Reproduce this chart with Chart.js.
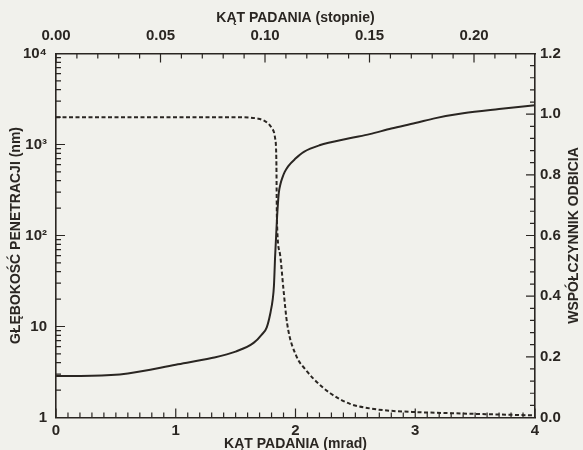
<!DOCTYPE html>
<html>
<head>
<meta charset="utf-8">
<script src="https://cdn.jsdelivr.net/npm/chart.js@4.4.1/dist/chart.umd.min.js"></script>
<style>
  html, body { margin: 0; padding: 0; background: #f1f1ec; }
  #chart { display: block; }
</style>
</head>
<body>
<canvas id="chart" width="583" height="450"></canvas>
<script>
// Penetration depth (solid line, left log axis), angle in mrad
const depthAngle = [0, 0.3, 0.6, 1.0, 1.3, 1.5, 1.65, 1.72, 1.76, 1.79, 1.81, 1.82, 1.83, 1.845, 1.86, 1.875, 1.89, 1.91, 1.94, 2.0, 2.07, 2.2, 2.45, 2.62, 2.8, 3.0, 3.17, 3.4, 3.7, 4.0];
const depthNm = [2.85, 2.87, 3.05, 3.8, 4.5, 5.3, 6.6, 8.2, 9.8, 14, 20, 28, 60, 150, 290, 370, 430, 500, 580, 700, 830, 980, 1170, 1300, 1500, 1720, 1950, 2200, 2450, 2700];

// Reflectivity (dashed line, right axis)
const reflAngle = [0, 0.5, 1.0, 1.5, 1.69, 1.77, 1.8, 1.83, 1.84, 1.845, 1.87, 1.9, 1.93, 2.01, 2.08, 2.15, 2.29, 2.455, 2.62, 2.8, 3.0, 3.4, 4.0];
const reflectivity = [0.99, 0.99, 0.99, 0.99, 0.985, 0.97, 0.955, 0.92, 0.85, 0.65, 0.54, 0.42, 0.31, 0.2, 0.16, 0.128, 0.08, 0.045, 0.03, 0.022, 0.018, 0.013, 0.007];

// Tick values and labels
const mradTicks = [0, 1, 2, 3, 4];
const degTicks = [0, 0.05, 0.10, 0.15, 0.20];
const depthTicks = [1, 10, 100, 1000, 10000];
const depthLabels = ['1', '10', '10²', '10³', '10⁴'];
const reflTicks = [0, 0.2, 0.4, 0.6, 0.8, 1.0, 1.2];

const INK = '#2a2622';
const FAMILY = "'Liberation Sans', Arial, 'DejaVu Sans', sans-serif";
const tickFont = { family: FAMILY, size: 15, weight: 'bold' };
const titleFont = { family: FAMILY, size: 14, weight: 'bold' };
const MRAD_MAX = 4;
const DEG_MAX = MRAD_MAX * 180 / Math.PI / 1000;

// small inward tick marks on all four sides + right axis title
const innerTicks = {
    id: 'innerTicks',
    afterDraw(chart) {
        const { ctx, chartArea: a, scales } = chart;
        ctx.save();
        ctx.strokeStyle = INK;
        ctx.lineWidth = 1.2;
        ctx.beginPath();
        for (let i = 0; i <= 40; i++) {
            const px = scales.x.getPixelForValue(i / 10);
            const len = i % 10 === 0 ? 9 : 5;
            ctx.moveTo(px, a.bottom);
            ctx.lineTo(px, a.bottom - len);
        }
        for (let i = 0; i <= 22; i++) {
            const px = scales.xTop.getPixelForValue(i / 100);
            const len = i % 5 === 0 ? 9 : 5;
            ctx.moveTo(px, a.top);
            ctx.lineTo(px, a.top + len);
        }
        for (let d = 1; d < 10000; d *= 10) {
            for (let m = 1; m < 10; m++) {
                const py = scales.y.getPixelForValue(d * m);
                const len = m === 1 ? 9 : 5;
                ctx.moveTo(a.left, py);
                ctx.lineTo(a.left + len, py);
            }
        }
        for (let i = 0; i <= 30; i++) {
            const py = scales.yR.getPixelForValue(i * 0.04);
            const len = i % 5 === 0 ? 9 : 5;
            ctx.moveTo(a.right, py);
            ctx.lineTo(a.right - len, py);
        }
        ctx.stroke();

        // right title reads bottom to top
        ctx.font = 'bold 14px ' + FAMILY;
        ctx.fillStyle = INK;
        ctx.textAlign = 'center';
        ctx.textBaseline = 'middle';
        ctx.translate(574, (a.top + a.bottom) / 2);
        ctx.rotate(-Math.PI / 2);
        ctx.fillText('WSPÓŁCZYNNIK ODBICIA', 0, 0);
        ctx.restore();
    }
};

const border = { display: true, color: INK, width: 1.6 };
const noGrid = { display: false, drawTicks: false };

new Chart(document.getElementById('chart'), {
    type: 'line',
    data: {
        datasets: [{
            label: 'Głębokość penetracji',
            data: depthAngle.map((x, i) => ({ x: x, y: depthNm[i] })),
            xAxisID: 'x',
            yAxisID: 'y',
            borderColor: INK,
            borderWidth: 2,
            pointRadius: 0,
            cubicInterpolationMode: 'monotone'
        },
        {
            label: 'Współczynnik odbicia',
            data: reflAngle.map((x, i) => ({ x: x, y: reflectivity[i] })),
            xAxisID: 'x',
            yAxisID: 'yR',
            borderColor: INK,
            borderWidth: 2,
            borderDash: [4, 2.5],
            pointRadius: 0,
            cubicInterpolationMode: 'monotone'
        }]
    },
    options: {
        responsive: false,
        animation: false,
        layout: { padding: 0 },
        plugins: {
            legend: { display: false },
            tooltip: { enabled: false }
        },
        scales: {
            x: {
                type: 'linear',
                position: 'bottom',
                min: 0,
                max: MRAD_MAX,
                afterBuildTicks: s => { s.ticks = mradTicks.map(v => ({ value: v })); },
                afterFit: s => { s.height = 32.5; },
                ticks: { color: INK, font: tickFont, padding: 4, maxRotation: 0, callback: v => String(v) },
                grid: noGrid,
                border: border,
                title: { display: true, text: 'KĄT PADANIA (mrad)', color: INK, font: titleFont, padding: { top: 0, bottom: -3 } }
            },
            xTop: {
                type: 'linear',
                position: 'top',
                min: 0,
                max: DEG_MAX,
                afterBuildTicks: s => { s.ticks = degTicks.map(v => ({ value: v })); },
                afterFit: s => { s.height = 53.5; },
                ticks: { color: INK, font: tickFont, padding: 9, maxRotation: 0, callback: v => v.toFixed(2) },
                grid: noGrid,
                border: border,
                title: { display: true, text: 'KĄT PADANIA (stopnie)', color: INK, font: titleFont, padding: { top: 10, bottom: 0 } }
            },
            y: {
                type: 'logarithmic',
                position: 'left',
                min: 1,
                max: 10000,
                afterBuildTicks: s => { s.ticks = depthTicks.map(v => ({ value: v })); },
                afterFit: s => { s.width = 56; },
                ticks: { color: INK, font: tickFont, padding: 9, callback: v => depthLabels[depthTicks.indexOf(v)] },
                grid: noGrid,
                border: border,
                title: { display: true, text: 'GŁĘBOKOŚĆ PENETRACJI (nm)', color: INK, font: titleFont, padding: { top: 8, bottom: 0 } }
            },
            yR: {
                type: 'linear',
                position: 'right',
                min: 0,
                max: 1.2,
                afterBuildTicks: s => { s.ticks = reflTicks.map(v => ({ value: v })); },
                afterFit: s => { s.width = 48; },
                ticks: { color: INK, font: tickFont, padding: 5, callback: v => v.toFixed(1) },
                grid: noGrid,
                border: border
            }
        }
    },
    plugins: [innerTicks]
});
</script>
</body>
</html>
